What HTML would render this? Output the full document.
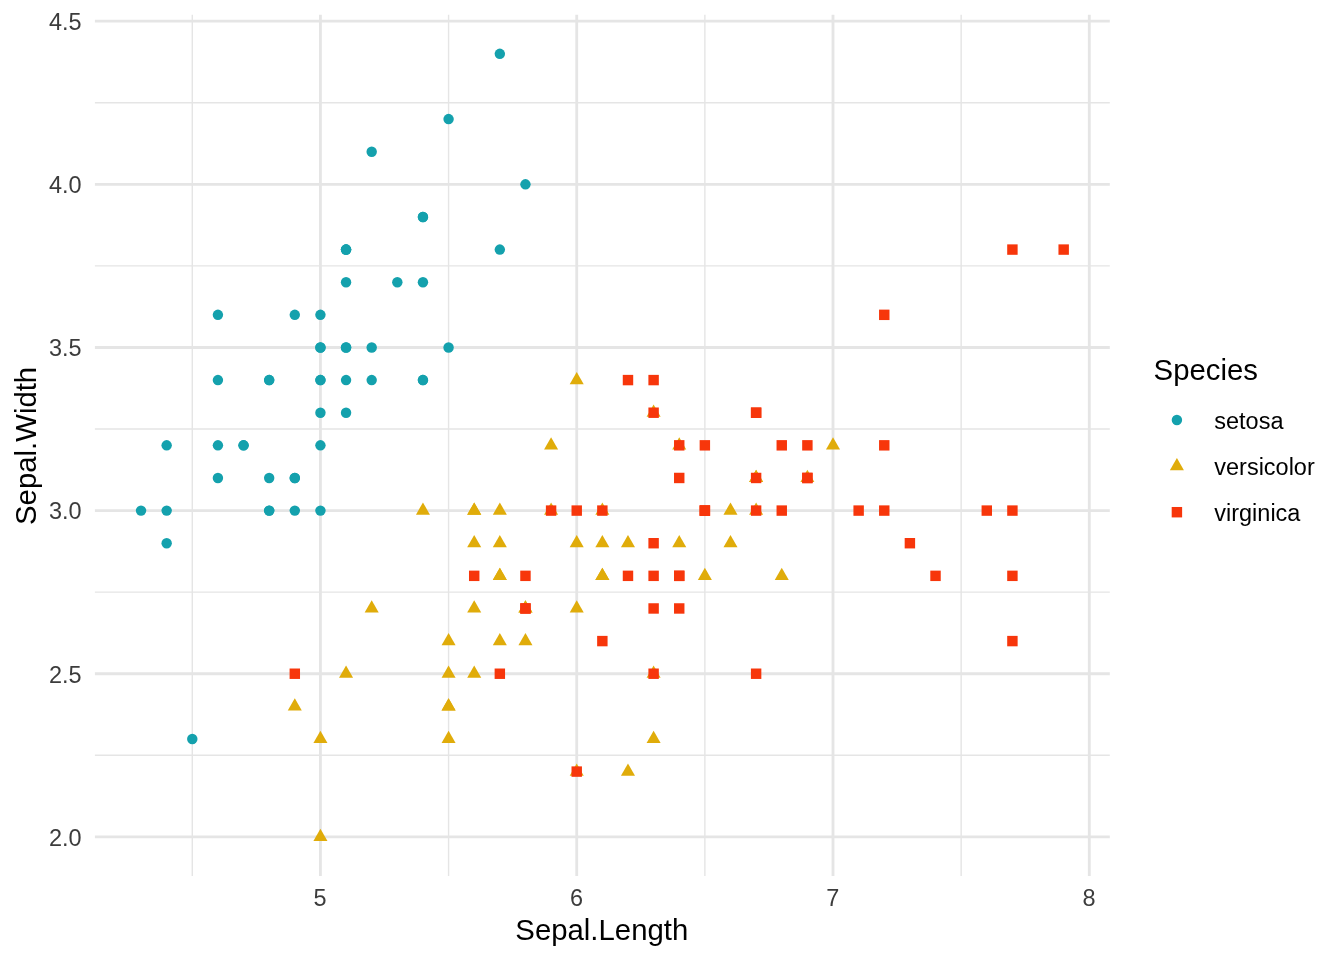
<!DOCTYPE html>
<html lang="en">
<head>
<meta charset="utf-8">
<title>Iris scatter plot</title>
<style>
html,body{margin:0;padding:0;background:#fff;}
body{width:1344px;height:960px;overflow:hidden;}
svg{display:block;}
text{font-family:"Liberation Sans",Arial,Helvetica,sans-serif;}
.sm{font-size:23.47px;}
.lg{font-size:29.33px;}
</style>
</head>
<body>
<svg width="1344" height="960" viewBox="0 0 1344 960">
<rect width="1344" height="960" fill="#fff"/>
<g stroke="#E5E5E5" stroke-width="1.42" fill="none">
<path d="M94.9 755.28H1109.8"/>
<path d="M94.9 592.15H1109.8"/>
<path d="M94.9 429.02H1109.8"/>
<path d="M94.9 265.89H1109.8"/>
<path d="M94.9 102.76H1109.8"/>
<path d="M192.29 14.67V876"/>
<path d="M448.58 14.67V876"/>
<path d="M704.87 14.67V876"/>
<path d="M961.15 14.67V876"/>
</g>
<g stroke="#E5E5E5" stroke-width="2.84" fill="none">
<path d="M94.9 836.85H1109.8"/>
<path d="M94.9 673.72H1109.8"/>
<path d="M94.9 510.59H1109.8"/>
<path d="M94.9 347.46H1109.8"/>
<path d="M94.9 184.33H1109.8"/>
<path d="M94.9 21.2H1109.8"/>
<path d="M320.43 14.67V876"/>
<path d="M576.72 14.67V876"/>
<path d="M833.01 14.67V876"/>
<path d="M1089.3 14.67V876"/>
</g>
<g fill="#14A1AD">
<circle cx="346.06" cy="347.46" r="5.21"/>
<circle cx="294.8" cy="510.59" r="5.21"/>
<circle cx="243.55" cy="445.33" r="5.21"/>
<circle cx="217.92" cy="477.96" r="5.21"/>
<circle cx="320.43" cy="314.83" r="5.21"/>
<circle cx="422.95" cy="216.95" r="5.21"/>
<circle cx="217.92" cy="380.08" r="5.21"/>
<circle cx="320.43" cy="380.08" r="5.21"/>
<circle cx="166.66" cy="543.21" r="5.21"/>
<circle cx="294.8" cy="477.96" r="5.21"/>
<circle cx="422.95" cy="282.2" r="5.21"/>
<circle cx="269.18" cy="380.08" r="5.21"/>
<circle cx="269.18" cy="510.59" r="5.21"/>
<circle cx="141.03" cy="510.59" r="5.21"/>
<circle cx="525.46" cy="184.33" r="5.21"/>
<circle cx="499.83" cy="53.82" r="5.21"/>
<circle cx="422.95" cy="216.95" r="5.21"/>
<circle cx="346.06" cy="347.46" r="5.21"/>
<circle cx="499.83" cy="249.58" r="5.21"/>
<circle cx="346.06" cy="249.58" r="5.21"/>
<circle cx="422.95" cy="380.08" r="5.21"/>
<circle cx="346.06" cy="282.2" r="5.21"/>
<circle cx="217.92" cy="314.83" r="5.21"/>
<circle cx="346.06" cy="412.71" r="5.21"/>
<circle cx="269.18" cy="380.08" r="5.21"/>
<circle cx="320.43" cy="510.59" r="5.21"/>
<circle cx="320.43" cy="380.08" r="5.21"/>
<circle cx="371.69" cy="347.46" r="5.21"/>
<circle cx="371.69" cy="380.08" r="5.21"/>
<circle cx="243.55" cy="445.33" r="5.21"/>
<circle cx="269.18" cy="477.96" r="5.21"/>
<circle cx="422.95" cy="380.08" r="5.21"/>
<circle cx="371.69" cy="151.7" r="5.21"/>
<circle cx="448.58" cy="119.07" r="5.21"/>
<circle cx="294.8" cy="477.96" r="5.21"/>
<circle cx="320.43" cy="445.33" r="5.21"/>
<circle cx="448.58" cy="347.46" r="5.21"/>
<circle cx="294.8" cy="314.83" r="5.21"/>
<circle cx="166.66" cy="510.59" r="5.21"/>
<circle cx="346.06" cy="380.08" r="5.21"/>
<circle cx="320.43" cy="347.46" r="5.21"/>
<circle cx="192.29" cy="738.97" r="5.21"/>
<circle cx="166.66" cy="445.33" r="5.21"/>
<circle cx="320.43" cy="347.46" r="5.21"/>
<circle cx="346.06" cy="249.58" r="5.21"/>
<circle cx="269.18" cy="510.59" r="5.21"/>
<circle cx="346.06" cy="249.58" r="5.21"/>
<circle cx="217.92" cy="445.33" r="5.21"/>
<circle cx="397.32" cy="282.2" r="5.21"/>
<circle cx="320.43" cy="412.71" r="5.21"/>
</g>
<g fill="#E0AC0A">
<path d="M833.01 437.23L840.03 449.39L825.99 449.39Z"/>
<path d="M679.24 437.23L686.26 449.39L672.22 449.39Z"/>
<path d="M807.38 469.86L814.4 482.01L800.36 482.01Z"/>
<path d="M448.58 730.86L455.6 743.02L441.56 743.02Z"/>
<path d="M704.87 567.73L711.89 579.89L697.85 579.89Z"/>
<path d="M499.83 567.73L506.85 579.89L492.81 579.89Z"/>
<path d="M653.61 404.6L660.63 416.76L646.59 416.76Z"/>
<path d="M294.8 698.24L301.82 710.4L287.78 710.4Z"/>
<path d="M730.49 535.11L737.51 547.27L723.47 547.27Z"/>
<path d="M371.69 600.36L378.71 612.52L364.67 612.52Z"/>
<path d="M320.43 828.74L327.45 840.9L313.41 840.9Z"/>
<path d="M551.09 502.48L558.11 514.64L544.07 514.64Z"/>
<path d="M576.72 763.49L583.74 775.65L569.7 775.65Z"/>
<path d="M602.35 535.11L609.37 547.27L595.33 547.27Z"/>
<path d="M474.21 535.11L481.23 547.27L467.19 547.27Z"/>
<path d="M756.12 469.86L763.14 482.01L749.1 482.01Z"/>
<path d="M474.21 502.48L481.23 514.64L467.19 514.64Z"/>
<path d="M525.46 600.36L532.48 612.52L518.44 612.52Z"/>
<path d="M627.98 763.49L635 775.65L620.96 775.65Z"/>
<path d="M474.21 665.61L481.23 677.77L467.19 677.77Z"/>
<path d="M551.09 437.23L558.11 449.39L544.07 449.39Z"/>
<path d="M602.35 567.73L609.37 579.89L595.33 579.89Z"/>
<path d="M653.61 665.61L660.63 677.77L646.59 677.77Z"/>
<path d="M602.35 567.73L609.37 579.89L595.33 579.89Z"/>
<path d="M679.24 535.11L686.26 547.27L672.22 547.27Z"/>
<path d="M730.49 502.48L737.51 514.64L723.47 514.64Z"/>
<path d="M781.75 567.73L788.77 579.89L774.73 579.89Z"/>
<path d="M756.12 502.48L763.14 514.64L749.1 514.64Z"/>
<path d="M576.72 535.11L583.74 547.27L569.7 547.27Z"/>
<path d="M499.83 632.99L506.85 645.14L492.81 645.14Z"/>
<path d="M448.58 698.24L455.6 710.4L441.56 710.4Z"/>
<path d="M448.58 698.24L455.6 710.4L441.56 710.4Z"/>
<path d="M525.46 600.36L532.48 612.52L518.44 612.52Z"/>
<path d="M576.72 600.36L583.74 612.52L569.7 612.52Z"/>
<path d="M422.95 502.48L429.97 514.64L415.93 514.64Z"/>
<path d="M576.72 371.98L583.74 384.14L569.7 384.14Z"/>
<path d="M756.12 469.86L763.14 482.01L749.1 482.01Z"/>
<path d="M653.61 730.86L660.63 743.02L646.59 743.02Z"/>
<path d="M474.21 502.48L481.23 514.64L467.19 514.64Z"/>
<path d="M448.58 665.61L455.6 677.77L441.56 677.77Z"/>
<path d="M448.58 632.99L455.6 645.14L441.56 645.14Z"/>
<path d="M602.35 502.48L609.37 514.64L595.33 514.64Z"/>
<path d="M525.46 632.99L532.48 645.14L518.44 645.14Z"/>
<path d="M320.43 730.86L327.45 743.02L313.41 743.02Z"/>
<path d="M474.21 600.36L481.23 612.52L467.19 612.52Z"/>
<path d="M499.83 502.48L506.85 514.64L492.81 514.64Z"/>
<path d="M499.83 535.11L506.85 547.27L492.81 547.27Z"/>
<path d="M627.98 535.11L635 547.27L620.96 547.27Z"/>
<path d="M346.06 665.61L353.08 677.77L339.04 677.77Z"/>
<path d="M499.83 567.73L506.85 579.89L492.81 579.89Z"/>
</g>
<g fill="#F7360B">
<rect x="648.4" y="407.5" width="10.43" height="10.43"/>
<rect x="520.25" y="603.25" width="10.43" height="10.43"/>
<rect x="853.43" y="505.37" width="10.43" height="10.43"/>
<rect x="648.4" y="538" width="10.43" height="10.43"/>
<rect x="699.65" y="505.37" width="10.43" height="10.43"/>
<rect x="981.57" y="505.37" width="10.43" height="10.43"/>
<rect x="289.59" y="668.51" width="10.43" height="10.43"/>
<rect x="904.68" y="538" width="10.43" height="10.43"/>
<rect x="750.91" y="668.51" width="10.43" height="10.43"/>
<rect x="879.05" y="309.62" width="10.43" height="10.43"/>
<rect x="699.65" y="440.12" width="10.43" height="10.43"/>
<rect x="674.02" y="603.25" width="10.43" height="10.43"/>
<rect x="776.54" y="505.37" width="10.43" height="10.43"/>
<rect x="494.62" y="668.51" width="10.43" height="10.43"/>
<rect x="520.25" y="570.63" width="10.43" height="10.43"/>
<rect x="674.02" y="440.12" width="10.43" height="10.43"/>
<rect x="699.65" y="505.37" width="10.43" height="10.43"/>
<rect x="1007.2" y="244.37" width="10.43" height="10.43"/>
<rect x="1007.2" y="635.88" width="10.43" height="10.43"/>
<rect x="571.51" y="766.38" width="10.43" height="10.43"/>
<rect x="802.17" y="440.12" width="10.43" height="10.43"/>
<rect x="468.99" y="570.63" width="10.43" height="10.43"/>
<rect x="1007.2" y="570.63" width="10.43" height="10.43"/>
<rect x="648.4" y="603.25" width="10.43" height="10.43"/>
<rect x="750.91" y="407.5" width="10.43" height="10.43"/>
<rect x="879.05" y="440.12" width="10.43" height="10.43"/>
<rect x="622.77" y="570.63" width="10.43" height="10.43"/>
<rect x="597.14" y="505.37" width="10.43" height="10.43"/>
<rect x="674.02" y="570.63" width="10.43" height="10.43"/>
<rect x="879.05" y="505.37" width="10.43" height="10.43"/>
<rect x="930.31" y="570.63" width="10.43" height="10.43"/>
<rect x="1058.46" y="244.37" width="10.43" height="10.43"/>
<rect x="674.02" y="570.63" width="10.43" height="10.43"/>
<rect x="648.4" y="570.63" width="10.43" height="10.43"/>
<rect x="597.14" y="635.88" width="10.43" height="10.43"/>
<rect x="1007.2" y="505.37" width="10.43" height="10.43"/>
<rect x="648.4" y="374.87" width="10.43" height="10.43"/>
<rect x="674.02" y="472.75" width="10.43" height="10.43"/>
<rect x="571.51" y="505.37" width="10.43" height="10.43"/>
<rect x="802.17" y="472.75" width="10.43" height="10.43"/>
<rect x="750.91" y="472.75" width="10.43" height="10.43"/>
<rect x="802.17" y="472.75" width="10.43" height="10.43"/>
<rect x="520.25" y="603.25" width="10.43" height="10.43"/>
<rect x="776.54" y="440.12" width="10.43" height="10.43"/>
<rect x="750.91" y="407.5" width="10.43" height="10.43"/>
<rect x="750.91" y="505.37" width="10.43" height="10.43"/>
<rect x="648.4" y="668.51" width="10.43" height="10.43"/>
<rect x="699.65" y="505.37" width="10.43" height="10.43"/>
<rect x="622.77" y="374.87" width="10.43" height="10.43"/>
<rect x="545.88" y="505.37" width="10.43" height="10.43"/>
</g>
<g class="sm" fill="#3C3C3C" text-anchor="end">
<text x="81.5" y="846">2.0</text>
<text x="81.5" y="683">2.5</text>
<text x="81.5" y="519">3.0</text>
<text x="81.5" y="356">3.5</text>
<text x="81.5" y="193">4.0</text>
<text x="81.5" y="30">4.5</text>
</g>
<g class="sm" fill="#3C3C3C" text-anchor="middle">
<text x="320.13" y="906">5</text>
<text x="576.42" y="906">6</text>
<text x="832.71" y="906">7</text>
<text x="1089" y="906">8</text>
</g>
<text class="lg" text-anchor="middle" x="601.8" y="940">Sepal.Length</text>
<text class="lg" text-anchor="middle" transform="translate(35.5 445.9) rotate(-90)">Sepal.Width</text>
<text class="lg" x="1153.6" y="380">Species</text>
<g fill="#14A1AD"><circle cx="1176.9" cy="420" r="5.21"/></g>
<text class="sm" x="1214.3" y="429">setosa</text>
<g fill="#E0AC0A"><path d="M1176.9 457.99L1183.92 470.15L1169.88 470.15Z"/></g>
<text class="sm" x="1214.3" y="475">versicolor</text>
<g fill="#F7360B"><rect x="1171.69" y="506.99" width="10.43" height="10.43"/></g>
<text class="sm" x="1214.3" y="521">virginica</text>
</svg>
</body>
</html>
